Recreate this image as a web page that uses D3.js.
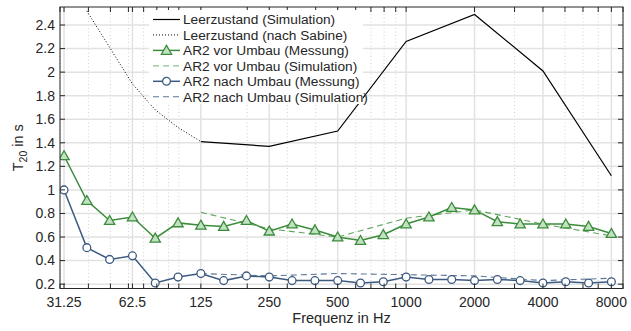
<!DOCTYPE html>
<html>
<head>
<meta charset="utf-8">
<script src="https://cdn.jsdelivr.net/npm/d3@7"></script>
<style>
  html, body { margin: 0; padding: 0; background: #fff; }
  svg { display: block; font-family: "Liberation Sans", Arial, Helvetica, sans-serif; }
</style>
</head>
<body>
<div id="chart"></div>
<script>
// Third-octave band centre frequencies (Hz)
const freqs = [31.25, 39.37, 49.61, 62.5, 78.75, 99.21, 125, 157.5, 198.4, 250, 315, 396.9,
               500, 630, 793.7, 1000, 1260, 1587, 2000, 2520, 3175, 4000, 5040, 6350, 8000];
const octFreqs = [125, 250, 500, 1000, 2000, 4000, 8000];
const sabineFreqs = [39.37, 49.61, 62.5, 78.75, 99.21, 125];

// T20 values in s
const leerSim = [1.41, 1.37, 1.50, 2.26, 2.49, 2.01, 1.12];
const leerSabine = [2.52, 2.21, 1.90, 1.68, 1.53, 1.41];
const vorMess = [1.29, 0.91, 0.74, 0.77, 0.59, 0.72, 0.70, 0.69, 0.74, 0.65, 0.71, 0.66,
                 0.60, 0.57, 0.62, 0.71, 0.77, 0.85, 0.83, 0.73, 0.71, 0.71, 0.71, 0.69, 0.63];
const vorSim = [0.81, 0.67, 0.60, 0.76, 0.83, 0.71, 0.61];
const nachMess = [1.00, 0.51, 0.41, 0.44, 0.21, 0.26, 0.29, 0.23, 0.27, 0.26, 0.23, 0.23,
                  0.23, 0.21, 0.22, 0.26, 0.24, 0.24, 0.23, 0.24, 0.23, 0.21, 0.22, 0.21, 0.22];
const nachSim = [0.29, 0.27, 0.29, 0.28, 0.27, 0.23, 0.25];

// Axis ticks
const xMajorTicks = [31.25, 62.5, 125, 250, 500, 1000, 2000, 4000, 8000];
const xTickLabels = ["31.25", "62.5", "125", "250", "500", "1000", "2000", "4000", "8000"];
const xMinorTicks = [30, 40, 50, 60, 70, 80, 90, 100, 200, 300, 400, 500, 600, 700, 800, 900,
                     1000, 2000, 3000, 4000, 5000, 6000, 7000, 8000, 9000];
const yTicks = [0.2, 0.4, 0.6, 0.8, 1, 1.2, 1.4, 1.6, 1.8, 2, 2.2, 2.4];

const seriesNames = ["Leerzustand (Simulation)", "Leerzustand (nach Sabine)",
                     "AR2 vor Umbau (Messung)", "AR2 vor Umbau (Simulation)",
                     "AR2 nach Umbau (Messung)", "AR2 nach Umbau (Simulation)"];

const width = 631, height = 331;
const margin = { top: 7, right: 8, bottom: 42.5, left: 60 };

const green = "#3c8c3c", greenLight = "#5ea55e";
const blue = "#3d5a80", blueLight = "#5b7698";
const axisColor = "#262626";

const svg = d3.select("#chart").append("svg")
    .attr("width", width)
    .attr("height", height);

const x = d3.scaleLog()
    .domain([30, 9000])
    .range([margin.left, width - margin.right]);

const y = d3.scaleLinear()
    .domain([0.163, 2.553])
    .range([height - margin.bottom, margin.top]);

const x0 = x.range()[0], x1 = x.range()[1];
const y0 = y.range()[0], y1 = y.range()[1];

svg.append("defs").append("clipPath").attr("id", "plot-clip")
    .append("rect")
    .attr("x", x0).attr("y", y1)
    .attr("width", x1 - x0).attr("height", y0 - y1);

// Grid
const grid = svg.append("g").attr("class", "grid");
grid.selectAll("line.minor-x")
    .data(xMinorTicks.filter(f => !xMajorTicks.includes(f)))
    .join("line")
    .attr("x1", d => x(d)).attr("x2", d => x(d))
    .attr("y1", y1).attr("y2", y0)
    .attr("stroke", "#c4c4c4")
    .attr("stroke-width", 0.8)
    .attr("stroke-dasharray", "1,2.5");
grid.selectAll("line.major-x")
    .data(xMajorTicks)
    .join("line")
    .attr("x1", d => x(d)).attr("x2", d => x(d))
    .attr("y1", y1).attr("y2", y0)
    .attr("stroke", "#e2e2e2")
    .attr("stroke-width", 1.5);
grid.selectAll("line.major-y")
    .data(yTicks)
    .join("line")
    .attr("x1", x0).attr("x2", x1)
    .attr("y1", d => y(d)).attr("y2", d => y(d))
    .attr("stroke", "#e2e2e2")
    .attr("stroke-width", 1.5);

// Series
const line = d3.line().x(d => x(d[0])).y(d => y(d[1]));
const zip = (xs, ys) => xs.map((f, i) => [f, ys[i]]);

const plot = svg.append("g").attr("clip-path", "url(#plot-clip)");

plot.append("path")
    .attr("d", line(zip(octFreqs, leerSim)))
    .attr("fill", "none").attr("stroke", "#000").attr("stroke-width", 1.2);
plot.append("path")
    .attr("d", line(zip(sabineFreqs, leerSabine)))
    .attr("fill", "none").attr("stroke", "#000").attr("stroke-width", 1)
    .attr("stroke-dasharray", "1,2");
plot.append("path")
    .attr("d", line(zip(octFreqs, vorSim)))
    .attr("fill", "none").attr("stroke", greenLight).attr("stroke-width", 1.1)
    .attr("stroke-dasharray", "6,4");
plot.append("path")
    .attr("d", line(zip(octFreqs, nachSim)))
    .attr("fill", "none").attr("stroke", blueLight).attr("stroke-width", 1.1)
    .attr("stroke-dasharray", "6,4");
plot.append("path")
    .attr("d", line(zip(freqs, vorMess)))
    .attr("fill", "none").attr("stroke", green).attr("stroke-width", 1.5);
plot.append("path")
    .attr("d", line(zip(freqs, nachMess)))
    .attr("fill", "none").attr("stroke", blue).attr("stroke-width", 1.5);

const triangle = d3.symbol().type(d3.symbolTriangle).size(46);
function drawTriangle(sel) {
    sel.attr("d", triangle)
        .attr("fill", "#c2e0c2")
        .attr("stroke", green)
        .attr("stroke-width", 1.3);
}
function drawCircle(sel) {
    sel.attr("r", 3.9)
        .attr("fill", "#fff")
        .attr("stroke", blue)
        .attr("stroke-width", 1.3);
}

plot.selectAll("path.tri")
    .data(zip(freqs, vorMess))
    .join("path")
    .attr("class", "tri")
    .attr("transform", d => `translate(${x(d[0])},${y(d[1]) + 0.9})`)
    .call(drawTriangle);
plot.selectAll("circle.circ")
    .data(zip(freqs, nachMess))
    .join("circle")
    .attr("class", "circ")
    .attr("cx", d => x(d[0])).attr("cy", d => y(d[1]))
    .call(drawCircle);

// Axes box and inward ticks
const axes = svg.append("g").attr("stroke", axisColor).attr("stroke-width", 1);
axes.append("rect")
    .attr("x", x0).attr("y", y1)
    .attr("width", x1 - x0).attr("height", y0 - y1)
    .attr("fill", "none");
const tickLen = 5;
const allXTicks = Array.from(new Set(xMinorTicks.concat(xMajorTicks)));
axes.selectAll("line.xt-bottom")
    .data(allXTicks)
    .join("line")
    .attr("x1", d => x(d)).attr("x2", d => x(d))
    .attr("y1", y0).attr("y2", y0 - tickLen);
axes.selectAll("line.xt-top")
    .data(allXTicks)
    .join("line")
    .attr("class", "xt-top")
    .attr("x1", d => x(d)).attr("x2", d => x(d))
    .attr("y1", y1).attr("y2", y1 + tickLen);
axes.selectAll("line.yt-left")
    .data(yTicks)
    .join("line")
    .attr("class", "yt-left")
    .attr("x1", x0).attr("x2", x0 + tickLen)
    .attr("y1", d => y(d)).attr("y2", d => y(d));
axes.selectAll("line.yt-right")
    .data(yTicks)
    .join("line")
    .attr("class", "yt-right")
    .attr("x1", x1).attr("x2", x1 - tickLen)
    .attr("y1", d => y(d)).attr("y2", d => y(d));

// Tick labels
svg.append("g").selectAll("text")
    .data(xMajorTicks)
    .join("text")
    .attr("x", d => x(d))
    .attr("y", y0 + 18)
    .attr("text-anchor", "middle")
    .attr("font-size", 14)
    .attr("fill", axisColor)
    .text((d, i) => xTickLabels[i]);
svg.append("g").selectAll("text")
    .data(yTicks)
    .join("text")
    .attr("x", x0 - 5)
    .attr("y", d => y(d))
    .attr("dy", "0.35em")
    .attr("text-anchor", "end")
    .attr("font-size", 14)
    .attr("fill", axisColor)
    .text(d => d3.format("~g")(d));

// Axis titles
svg.append("text")
    .attr("x", (x0 + x1) / 2)
    .attr("y", 323)
    .attr("text-anchor", "middle")
    .attr("font-size", 14.5)
    .attr("fill", axisColor)
    .text("Frequenz in Hz");
const yTitle = svg.append("text")
    .attr("transform", `translate(23,${(y0 + y1) / 2}) rotate(-90)`)
    .attr("text-anchor", "middle")
    .attr("font-size", 14.5)
    .attr("fill", axisColor);
yTitle.append("tspan").text("T");
yTitle.append("tspan").attr("font-size", 10.5).attr("dy", 4).text("20");
yTitle.append("tspan").attr("dy", -4).text(" in s");

// Legend
const legend = svg.append("g").attr("class", "legend");
legend.append("rect")
    .attr("x", 149).attr("y", 10)
    .attr("width", 214).attr("height", 94)
    .attr("fill", "#fff");
const rowY = i => 19.5 + i * 15.45;
const legendStyles = [
    { stroke: "#000", width: 1.2, dash: null },
    { stroke: "#000", width: 1, dash: "1,2" },
    { stroke: green, width: 1.5, dash: null, marker: "tri" },
    { stroke: "#8cc48c", width: 1.3, dash: "6,4" },
    { stroke: blue, width: 1.5, dash: null, marker: "circ" },
    { stroke: blueLight, width: 1.1, dash: "6,4" }
];
const rows = legend.selectAll("g.row")
    .data(seriesNames)
    .join("g")
    .attr("class", "row")
    .attr("transform", (d, i) => `translate(0,${rowY(i)})`);
rows.append("line")
    .attr("x1", 153).attr("x2", 180)
    .attr("stroke", (d, i) => legendStyles[i].stroke)
    .attr("stroke-width", (d, i) => legendStyles[i].width)
    .attr("stroke-dasharray", (d, i) => legendStyles[i].dash);
rows.filter((d, i) => legendStyles[i].marker === "tri")
    .append("path")
    .attr("transform", "translate(166.5,0.9)")
    .call(drawTriangle);
rows.filter((d, i) => legendStyles[i].marker === "circ")
    .append("circle")
    .attr("cx", 166.5).attr("cy", 0)
    .call(drawCircle);
rows.append("text")
    .attr("x", 183)
    .attr("dy", "0.35em")
    .attr("font-size", 13.7)
    .attr("fill", axisColor)
    .text(d => d);
</script>
</body>
</html>
